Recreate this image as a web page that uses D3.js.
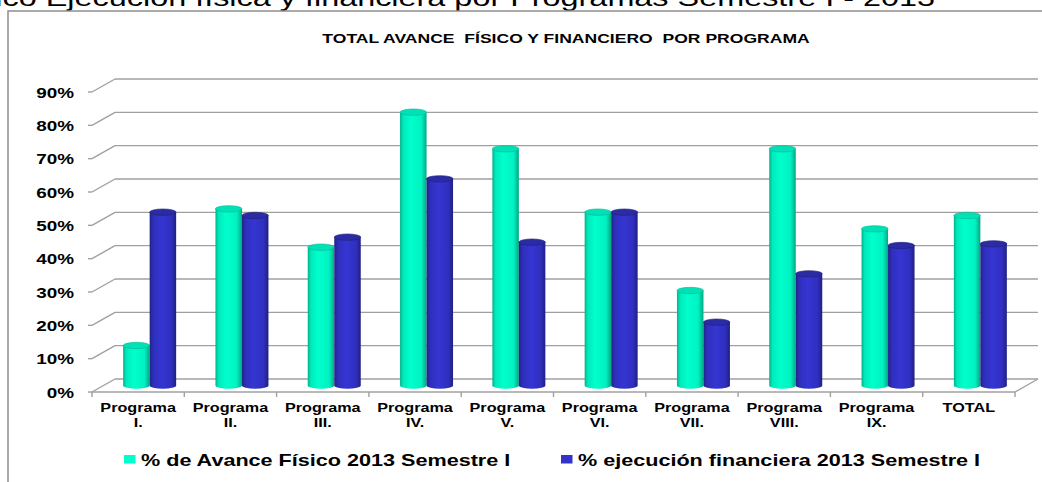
<!DOCTYPE html>
<html>
<head>
<meta charset="utf-8">
<script src="https://cdn.jsdelivr.net/npm/d3@7"></script>
<style>
  html, body { margin: 0; padding: 0; background: #fff; }
  svg { display: block; font-family: "Liberation Sans", Arial, sans-serif; }
  text { white-space: pre; }
</style>
</head>
<body>
<svg id="chart" width="1042" height="482"></svg>
<script>
// Programs on the category axis
const categories = ["I.", "II.", "III.", "IV.", "V.", "VI.", "VII.", "VIII.", "IX.", "TOTAL"];
// Physical progress, semester I 2013 (share)
const avanceFisico = [0.12, 0.53, 0.415, 0.82, 0.71, 0.52, 0.285, 0.71, 0.47, 0.51];
// Financial execution, semester I 2013 (share)
const ejecucionFinanciera = [0.52, 0.51, 0.445, 0.62, 0.43, 0.52, 0.19, 0.335, 0.42, 0.425];
const seriesNames = ["% de Avance Físico 2013 Semestre I", "% ejecución financiera 2013 Semestre I"];
const yTicks = [0, 0.1, 0.2, 0.3, 0.4, 0.5, 0.6, 0.7, 0.8, 0.9];

const pageTitle = "Gráfico Ejecución física y financiera por Programas Semestre I - 2013";
const chartTitle = "TOTAL AVANCE  FÍSICO Y FINANCIERO  POR PROGRAMA";

const svg = d3.select("#chart");
const SX = 1.35;               // horizontal stretch applied to all text
const depth = { dx: 23, dy: -13 };   // 3-D floor depth offset
const mid = { dx: depth.dx / 2, dy: depth.dy / 2 };

const x = d3.scaleBand().domain(categories).range([92, 1015]).padding(0);
const y = d3.scaleLinear().domain([0, 0.9]).range([392, 92]);
const pairWidth = 53;
const xs = d3.scaleBand().domain(seriesNames).range([0, pairWidth]).padding(0);

function stretchedText(sel, tx, ty, str, opts) {
  const t = sel.append("text")
    .attr("transform", `translate(${tx},${ty}) scale(${SX},1)`)
    .attr("text-anchor", opts.anchor || "start")
    .attr("font-size", opts.size)
    .attr("font-weight", opts.weight || "bold")
    .attr("fill", "#000")
    .text(str);
  if (opts.baseline) t.attr("dominant-baseline", opts.baseline);
  return t;
}

// Page heading (partly above the visible area)
stretchedText(svg, 935, 6, pageTitle, { anchor: "end", size: 24, weight: "normal" });

// Chart frame
svg.append("path")
  .attr("d", "M8,482 L8,11 L1042,11")
  .attr("fill", "none").attr("stroke", "#8f8f8f").attr("stroke-width", 1.5);

// Chart title
stretchedText(svg, 566, 43, chartTitle, { anchor: "middle", size: 13 });

// Gridlines on the back wall and side-wall diagonals
const grid = svg.append("g").attr("stroke", "#a0a0a0").attr("stroke-width", 1.4).attr("fill", "none");
yTicks.forEach(v => {
  const yf = y(v);
  grid.append("line")
    .attr("x1", x.range()[0] + depth.dx).attr("x2", x.range()[1] + depth.dx)
    .attr("y1", yf + depth.dy).attr("y2", yf + depth.dy);
  grid.append("line")
    .attr("x1", x.range()[0]).attr("y1", yf)
    .attr("x2", x.range()[0] + depth.dx).attr("y2", yf + depth.dy);
  grid.append("line")
    .attr("x1", x.range()[0] - 4).attr("y1", yf)
    .attr("x2", x.range()[0]).attr("y2", yf);
});
// Floor front edge, right diagonal and category ticks
grid.append("line")
  .attr("x1", x.range()[0]).attr("x2", x.range()[1])
  .attr("y1", y(0)).attr("y2", y(0));
grid.append("line")
  .attr("x1", x.range()[1]).attr("y1", y(0))
  .attr("x2", x.range()[1] + depth.dx).attr("y2", y(0) + depth.dy);
categories.concat([null]).forEach((c, i) => {
  const xx = x.range()[0] + i * x.bandwidth();
  grid.append("line").attr("x1", xx).attr("x2", xx).attr("y1", y(0)).attr("y2", y(0) + 5);
});

// Y tick labels
const fmt = d3.format(".0%");
yTicks.forEach(v => {
  stretchedText(svg, 74, y(v) + 1, fmt(v), { anchor: "end", size: 14, baseline: "central" });
});

// X labels
categories.forEach(c => {
  const cx = x(c) + x.bandwidth() / 2;
  if (c === "TOTAL") {
    stretchedText(svg, cx, 412, c, { anchor: "middle", size: 12 });
  } else {
    stretchedText(svg, cx, 412, "Programa", { anchor: "middle", size: 12 });
    stretchedText(svg, cx, 426.5, c, { anchor: "middle", size: 12 });
  }
});

// Cylinder gradients
const defs = svg.append("defs");
const palettes = [
  { id: "gCyan", stops: [["0%", "#00b38c"], ["12%", "#00eabc"], ["40%", "#00ffcc"], ["80%", "#00f2c2"], ["100%", "#00a884"]],
    top: "#00e2b6", topStroke: "#00b892", legend: "#00ffcc" },
  { id: "gBlue", stops: [["0%", "#232386"], ["15%", "#2f2fbd"], ["45%", "#3535d2"], ["82%", "#2f2fc0"], ["100%", "#202080"]],
    top: "#2b2ba4", topStroke: "#20207e", legend: "#3333cc" }
];
palettes.forEach(p => {
  const g = defs.append("linearGradient").attr("id", p.id)
    .attr("x1", "0%").attr("x2", "100%").attr("y1", "0%").attr("y2", "0%");
  p.stops.forEach(s => g.append("stop").attr("offset", s[0]).attr("stop-color", s[1]));
});

// Bars as cylinders, placed at mid-depth of the floor
const seriesValues = [avanceFisico, ejecucionFinanciera];
const ry = 3.2;
const bars = svg.append("g");
categories.forEach((c, i) => {
  seriesNames.forEach((s, k) => {
    const v = seriesValues[k][i];
    const p = palettes[k];
    const x0 = x(c) + (x.bandwidth() - pairWidth) / 2 + xs(s) + mid.dx;
    const w = xs.bandwidth();
    const rx = w / 2;
    const cx = x0 + rx;
    const yb = y(0) + mid.dy;
    const yt = y(v) + mid.dy;
    const g = bars.append("g");
    g.append("path")
      .attr("d", `M${x0},${yt} L${x0},${yb} A${rx},${ry} 0 0 0 ${x0 + w},${yb} L${x0 + w},${yt} Z`)
      .attr("fill", `url(#${p.id})`);
    g.append("ellipse")
      .attr("cx", cx).attr("cy", yt).attr("rx", rx).attr("ry", ry)
      .attr("fill", p.top).attr("stroke", p.topStroke).attr("stroke-width", 0.6);
  });
});

// Legend
const legendX = [124, 561];
seriesNames.forEach((s, k) => {
  svg.append("rect")
    .attr("x", legendX[k]).attr("y", 455).attr("width", 11.5).attr("height", 8.5)
    .attr("fill", palettes[k].legend);
  stretchedText(svg, legendX[k] + 17, 466, s, { size: 16 });
});
</script>
</body>
</html>
